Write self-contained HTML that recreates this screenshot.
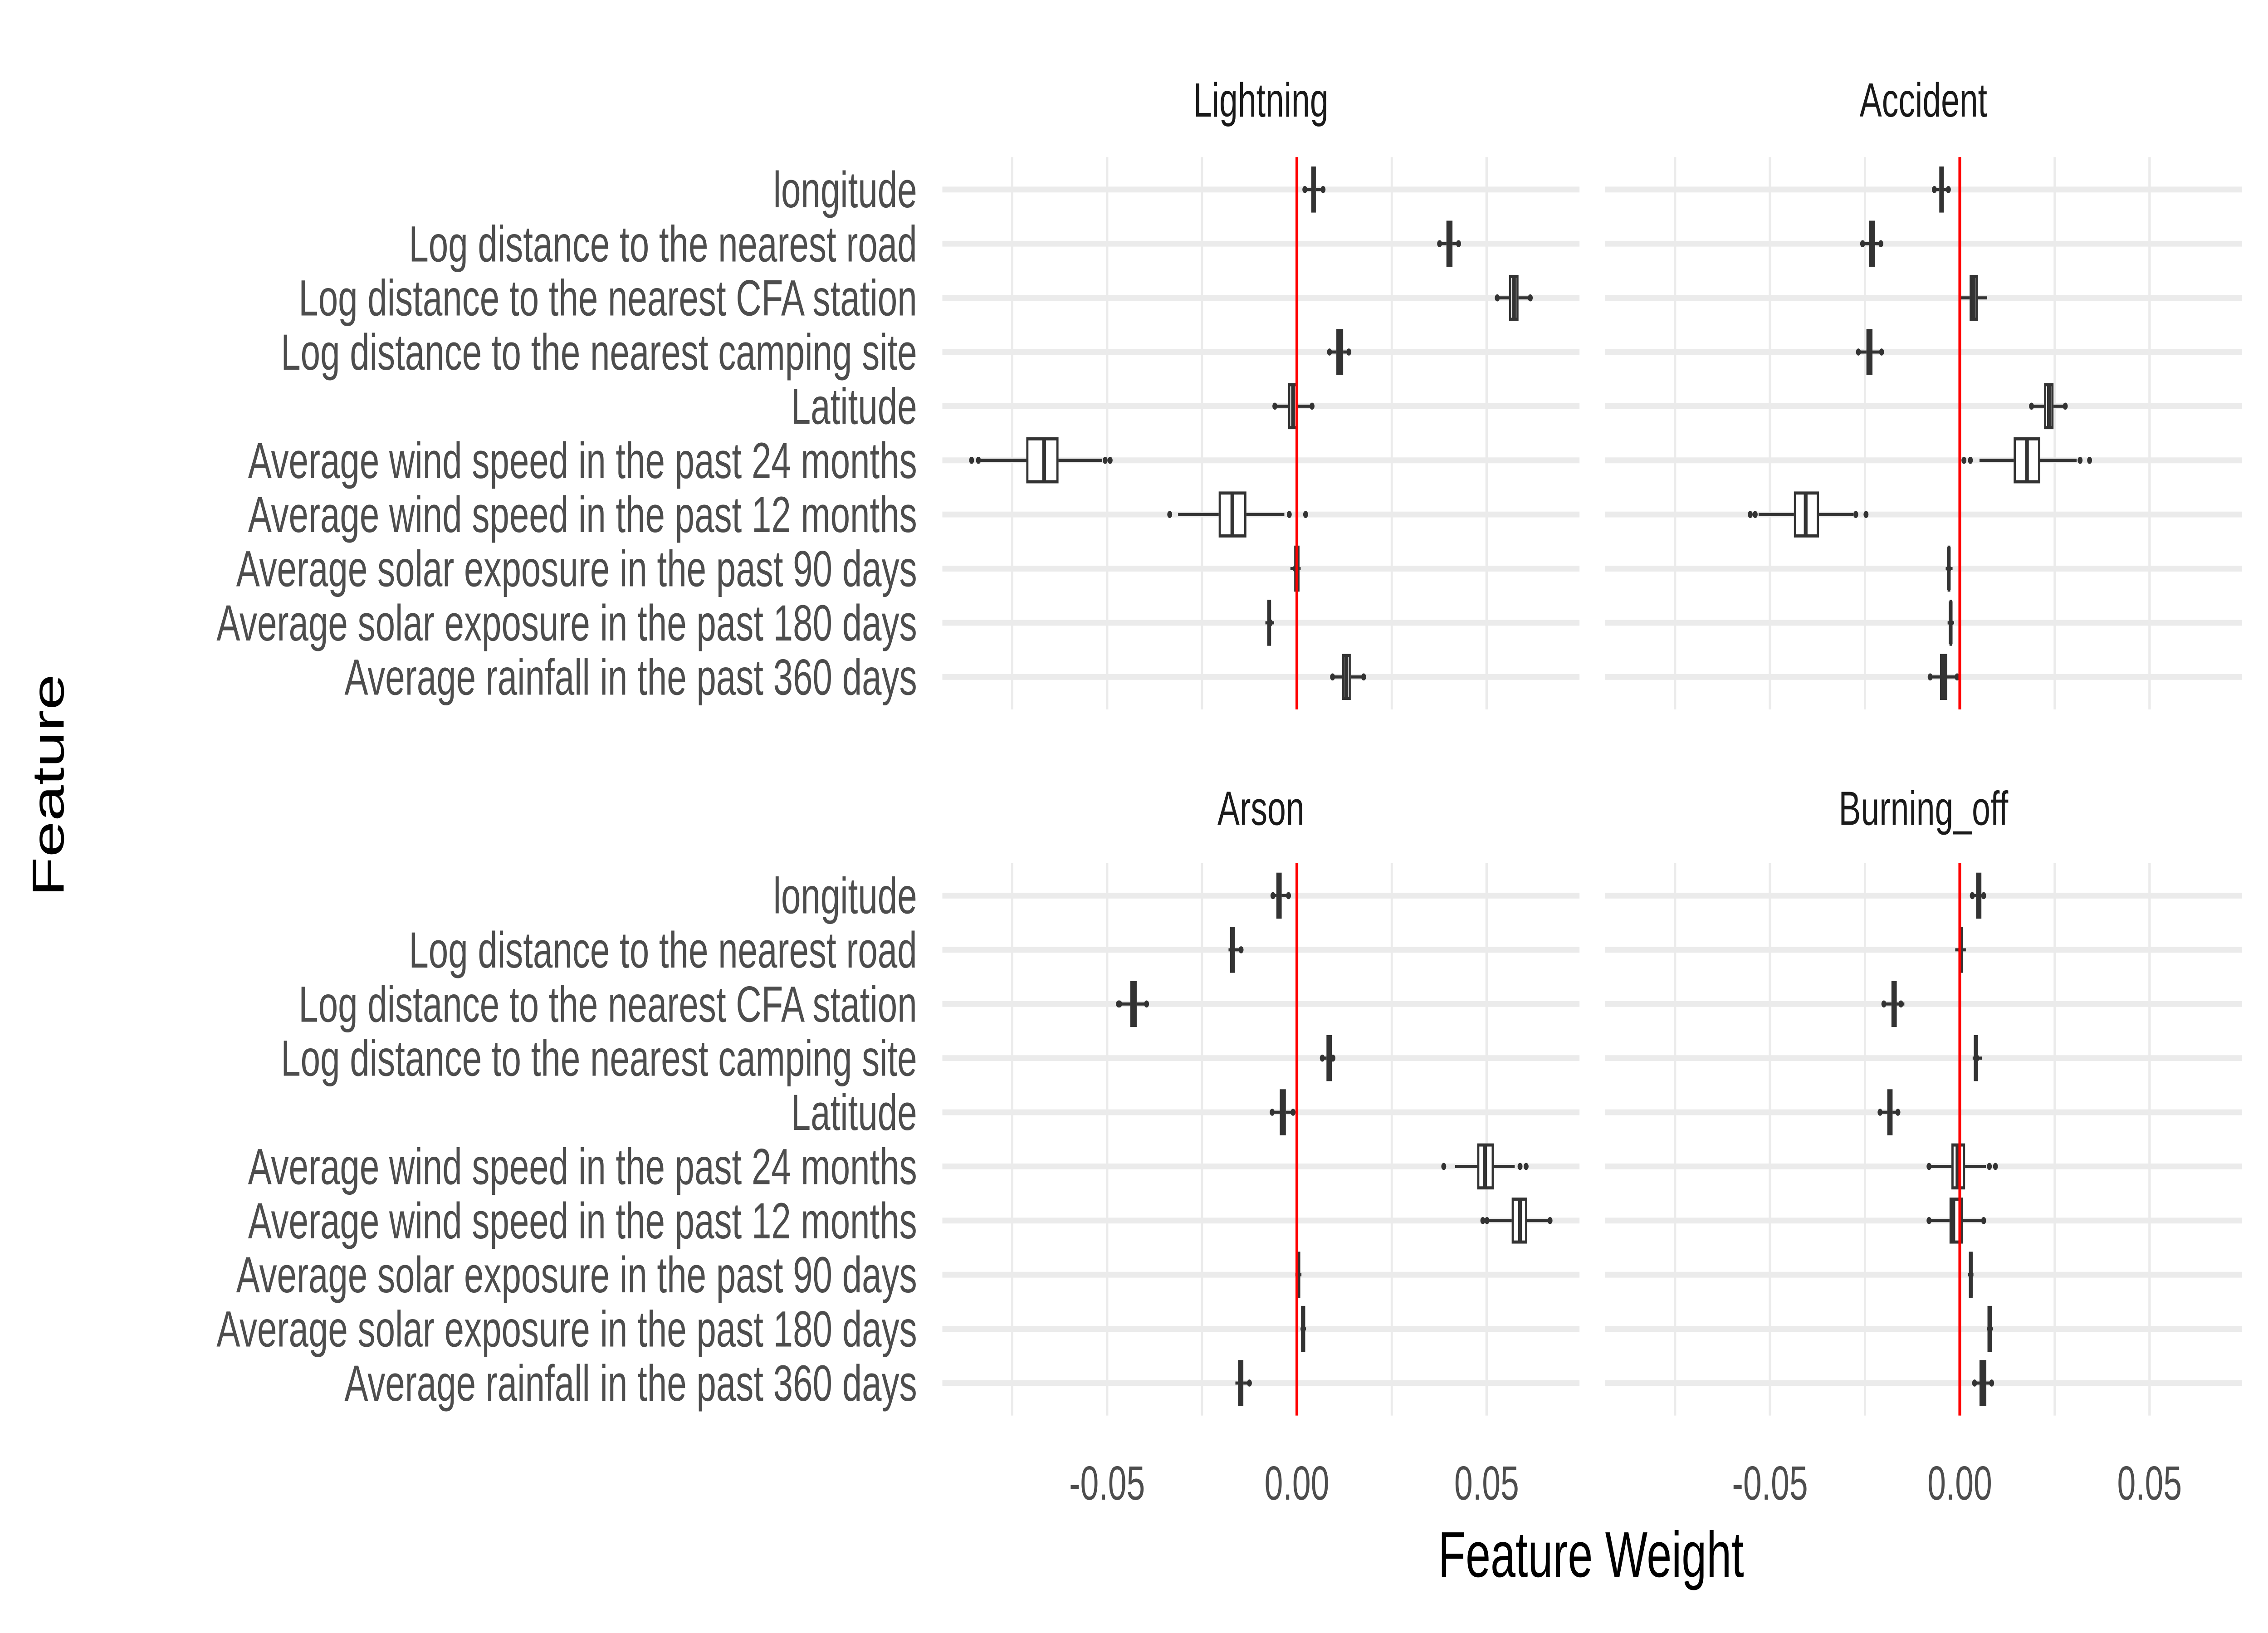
<!DOCTYPE html>
<html><head><meta charset="utf-8"><style>
html,body{margin:0;padding:0;background:#fff;width:100%;height:100%;overflow:hidden;}
svg{display:block;width:100vw;height:100vh;font-family:"Liberation Sans",Arial,sans-serif;}
</style></head><body>
<svg id="chart" xmlns="http://www.w3.org/2000/svg" viewBox="0 0 1568 784" preserveAspectRatio="none">
<rect x="0" y="0" width="1568" height="784" fill="#ffffff"/>
<g id="plot"></g>
<text x="1100" y="757" text-anchor="middle" font-size="31" fill="#000">Feature Weight</text>
<text transform="translate(44,377) rotate(-90)" text-anchor="middle" font-size="31" fill="#000">Feature</text>
</svg>
<script>
const features=["longitude","Log distance to the nearest road","Log distance to the nearest CFA station","Log distance to the nearest camping site","Latitude","Average wind speed in the past 24 months","Average wind speed in the past 12 months","Average solar exposure in the past 90 days","Average solar exposure in the past 180 days","Average rainfall in the past 360 days"];
const panels=["Lightning","Accident","Arson","Burning_off"];
const xTicks=[-0.05,0,0.05];
const xTickLabels=["-0.05","0.00","0.05"];
const xMinor=[-0.075,-0.025,0.025,0.075];
const lo=[
[0.0025,0.0380,0.0530,0.0088,-0.0056,-0.0839,-0.0313,-0.0017,-0.0083,0.0096],
[-0.0065,-0.0254,0.0003,-0.0265,0.0191,0.0052,-0.0530,-0.0037,-0.0032,-0.0076],
[-0.0061,-0.0180,-0.0467,0.0069,-0.0063,0.0417,0.0507,-0.0004,0.0011,-0.0162],
[0.0033,-0.0012,-0.0198,0.0034,-0.0208,-0.0081,-0.0081,0.0022,0.0072,0.0041]];
const q1=[
[0.0038,0.0394,0.0559,0.0104,-0.0023,-0.0713,-0.0206,-0.0007,-0.0078,0.0119],
[-0.0054,-0.0239,0.0026,-0.0246,0.0222,0.0142,-0.0437,-0.0032,-0.0027,-0.0052],
[-0.0054,-0.0176,-0.0439,0.0078,-0.0045,0.0475,0.0566,-0.0003,0.0011,-0.0155],
[0.0043,-0.0003,-0.0180,0.0037,-0.0191,-0.0022,-0.0027,0.0024,0.0073,0.0052]];
const med=[
[0.0044,0.0401,0.0572,0.0113,-0.0010,-0.0666,-0.0170,0.0000,-0.0073,0.0130],
[-0.0048,-0.0231,0.0037,-0.0238,0.0235,0.0177,-0.0406,-0.0029,-0.0024,-0.0043],
[-0.0047,-0.0170,-0.0430,0.0085,-0.0037,0.0496,0.0588,0.0003,0.0016,-0.0148],
[0.0050,0.0002,-0.0173,0.0042,-0.0184,-0.0006,-0.0017,0.0029,0.0079,0.0061]];
const q3=[
[0.0050,0.0410,0.0584,0.0122,0.0002,-0.0628,-0.0133,0.0007,-0.0068,0.0142],
[-0.0042,-0.0223,0.0048,-0.0230,0.0247,0.0212,-0.0371,-0.0025,-0.0020,-0.0033],
[-0.0040,-0.0163,-0.0422,0.0092,-0.0029,0.0519,0.0607,0.0009,0.0022,-0.0141],
[0.0057,0.0008,-0.0166,0.0048,-0.0177,0.0014,0.0008,0.0034,0.0085,0.0070]];
const hi=[
[0.0063,0.0422,0.0612,0.0135,0.0038,-0.0513,-0.0033,0.0010,-0.0060,0.0172],
[-0.0032,-0.0210,0.0072,-0.0208,0.0276,0.0308,-0.0281,-0.0019,-0.0015,-0.0012],
[-0.0027,-0.0150,-0.0398,0.0101,-0.0007,0.0574,0.0667,0.0012,0.0024,-0.0125],
[0.0065,0.0016,-0.0146,0.0058,-0.0158,0.0069,0.0063,0.0036,0.0088,0.0084]];
const outliers=[
[[0.0021,0.0069],[0.0376,0.0426],[0.0528,0.0615],[0.0086,0.0137],[-0.0058,0.0040],[-0.0857,-0.0839,-0.0505,-0.0492],[-0.0335,-0.0020,0.0023],[-0.0004],[-0.0070],[0.0094,0.0176]],
[[-0.0067,-0.0030],[-0.0256,-0.0208],[],[-0.0267,-0.0206],[0.0189,0.0278],[0.0011,0.0028,0.0317,0.0342],[-0.0552,-0.0539,-0.0274,-0.0247],[-0.0029],[-0.0024],[-0.0078,-0.0007]],
[[-0.0063,-0.0022],[-0.0147],[-0.0470,-0.0467,-0.0396],[0.0067,0.0095],[-0.0065,-0.0010],[0.0387,0.0588,0.0604],[0.0490,0.0501,0.0667],[0.0003],[0.0016],[-0.0125]],
[[0.0033,0.0063],[0.0002],[-0.0200,-0.0155],[0.0045],[-0.0210,-0.0163],[-0.0081,0.0078,0.0094],[-0.0081,0.0063],[0.0029],[0.0079],[0.0039,0.0084]]];

const NS="http://www.w3.org/2000/svg";
const plot=document.getElementById('plot');
const K=2624;
const colX0=[651.5,1109.6], colX1=[1092,1550], colZero=[896.6,1354.9];
const rowY0=[91,430], rowTop=[75.4,414.4], rowBot=[340.6,679.6], stripY=[56,396];
const STEP=26;
function mk(tag,attrs,parent){const e=document.createElementNS(NS,tag);for(const k in attrs)e.setAttribute(k,attrs[k]);(parent||plot).appendChild(e);return e;}
function xs(c,v){return colZero[c]+v*K;}
function ys(r,i){return rowY0[r]+i*STEP;}

panels.forEach((p,pi)=>{
  const c=pi%2, r=Math.floor(pi/2);
  const g=mk('g',{});
  
  
  xMinor.forEach(v=>{const x=xs(c,v);if(x>colX0[c]&&x<colX1[c]){const l=mk('line',{x1:x,x2:x,y1:rowTop[r],y2:rowBot[r],stroke:'#ebebeb','stroke-width':1.5},g);}});
  xTicks.forEach(v=>{const x=xs(c,v);const l=mk('line',{x1:x,x2:x,y1:rowTop[r],y2:rowBot[r],stroke:'#ebebeb','stroke-width':1.7},g);});
  features.forEach((f,i)=>{const y=ys(r,i);const l=mk('line',{x1:colX0[c],x2:colX1[c],y1:y,y2:y,stroke:'#ebebeb','stroke-width':2.8},g);});
  const st=mk('text',{x:(colX0[c]+colX1[c])/2,y:stripY[r],'text-anchor':'middle','font-size':23,fill:'#1a1a1a'},g);
  st.textContent=p;
  
  
  features.forEach((f,i)=>{
    const y=ys(r,i), h=10.3, sw=1.5;
    const b=mk('g',{},g);
    
    
    mk('line',{x1:xs(c,lo[pi][i]),x2:xs(c,q1[pi][i]),y1:y,y2:y,stroke:'#333','stroke-width':1.5},b);
    mk('line',{x1:xs(c,q3[pi][i]),x2:xs(c,hi[pi][i]),y1:y,y2:y,stroke:'#333','stroke-width':1.5},b);
    const w=xs(c,q3[pi][i])-xs(c,q1[pi][i]);
    const bx=mk('rect',{x:xs(c,q1[pi][i])+sw/2,y:y-h,width:Math.max(0.3,w-sw),height:2*h,fill:'#fff',stroke:'#333','stroke-width':sw},b);
    
    
    const m=mk('line',{x1:xs(c,med[pi][i]),x2:xs(c,med[pi][i]),y1:y-h,y2:y+h,stroke:'#333','stroke-width':2.6},b);
    
    
    outliers[pi][i].forEach(v=>{const o=mk('circle',{cx:xs(c,v),cy:y,r:1.7,fill:'#333'},b);});
  });
  const z=mk('line',{x1:colZero[c],x2:colZero[c],y1:rowTop[r],y2:rowBot[r],stroke:'#ff0000','stroke-width':1.9},g);
  
  
  if(c===0){features.forEach((f,i)=>{const t=mk('text',{x:634,y:ys(r,i)+8.5,'text-anchor':'end','font-size':24.5,fill:'#4d4d4d'},g);t.textContent=f;});}
  if(r===1){xTicks.forEach((v,k)=>{const t=mk('text',{x:xs(c,v),y:720,'text-anchor':'middle','font-size':23,fill:'#4d4d4d'},g);t.textContent=xTickLabels[k];});}
});
</script>
</body></html>
